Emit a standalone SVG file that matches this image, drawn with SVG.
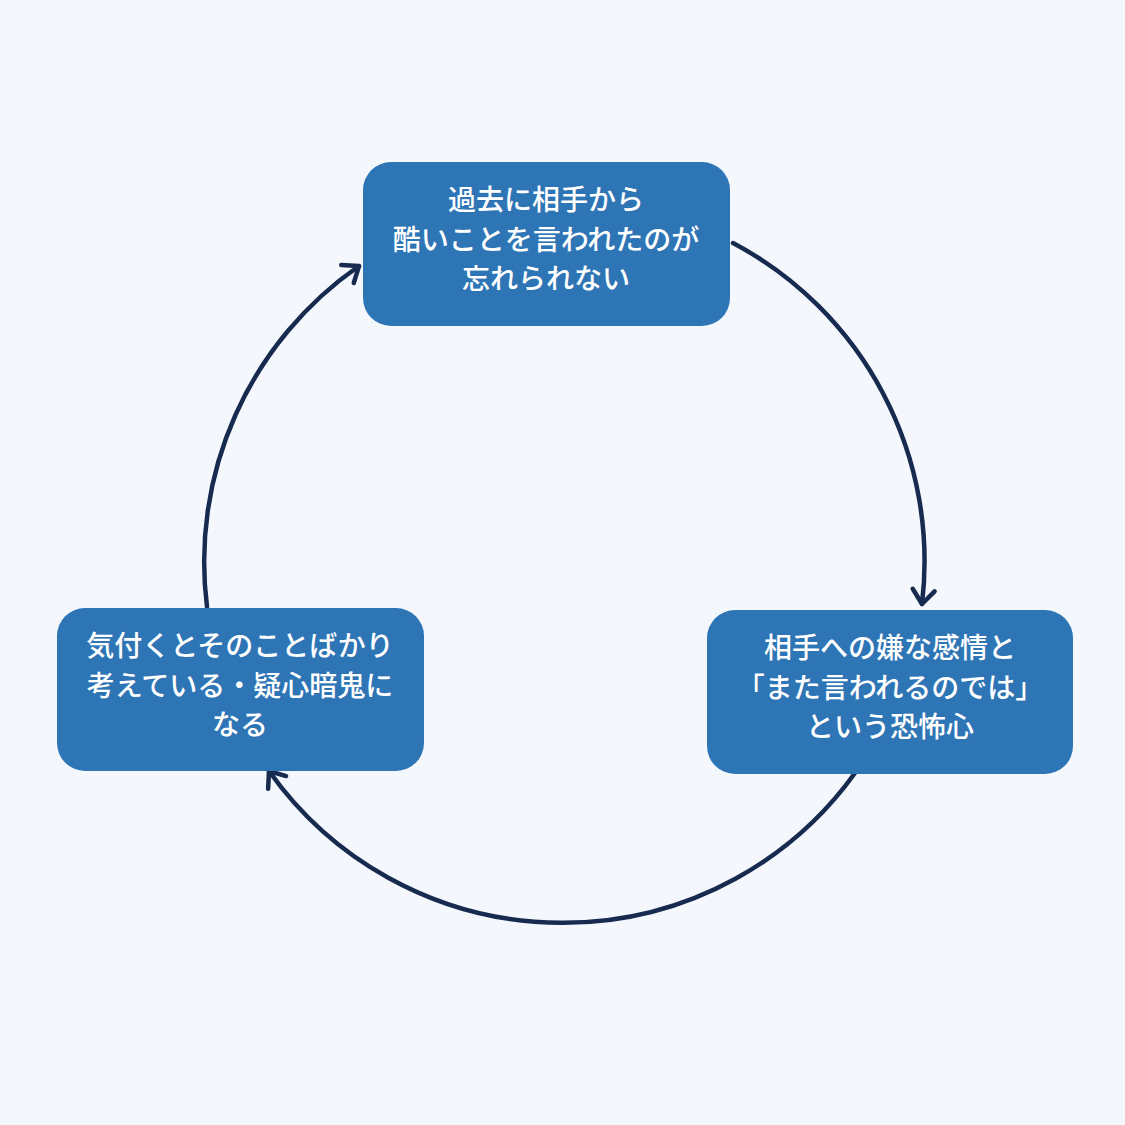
<svg xmlns="http://www.w3.org/2000/svg" width="1125" height="1125" viewBox="0 0 1125 1125">
<style>
.bg{fill:#F4F8FD}
.box{fill:#2E75B6}
.t{fill:#FFFFFF;font-family:"Noto Sans CJK JP","Noto Sans",sans-serif;font-size:28px;font-weight:500;text-anchor:middle}
.arc{fill:none;stroke:#172A4F;stroke-width:4.5;stroke-linecap:round}
</style>
<defs>
<marker id="ah" markerUnits="userSpaceOnUse" markerWidth="30" markerHeight="30" viewBox="-20 -15 25 30" refX="0" refY="0" orient="auto">
<path d="M -14 -11 L 0 0 L -14 11" fill="none" stroke="#172A4F" stroke-width="4.5" stroke-linecap="round" stroke-linejoin="round"/>
</marker>
</defs>
<rect class="bg" x="0" y="0" width="1125" height="1125"/>
<g id="connectors">
<path class="arc" d="M 733 243 A 360 360 0 0 1 922 604" marker-end="url(#ah)"/>
<path class="arc" d="M 855 773 A 360 360 0 0 1 269 771" marker-end="url(#ah)"/>
<path class="arc" d="M 207 607 A 360 360 0 0 1 359 266" marker-end="url(#ah)"/>
</g>
<g id="node-top">
<rect class="box" x="363" y="162" width="367" height="164" rx="28"/>
<text class="t" x="546" y="210">過去に相手から</text>
<text class="t" x="546" y="250">酷いことを言われたのが</text>
<text class="t" x="546" y="289">忘れられない</text>
</g>
<g id="node-right">
<rect class="box" x="707" y="610" width="366" height="164" rx="28"/>
<text class="t" x="890" y="658">相手への嫌な感情と</text>
<text class="t" x="890" y="698">「また言われるのでは」</text>
<text class="t" x="890" y="737">という恐怖心</text>
</g>
<g id="node-left">
<rect class="box" x="57" y="608" width="367" height="163" rx="28"/>
<text class="t" x="240" y="656">気付くとそのことばかり</text>
<text class="t" x="240" y="696">考えている・疑心暗鬼に</text>
<text class="t" x="240" y="735">なる</text>
</g>
</svg>
